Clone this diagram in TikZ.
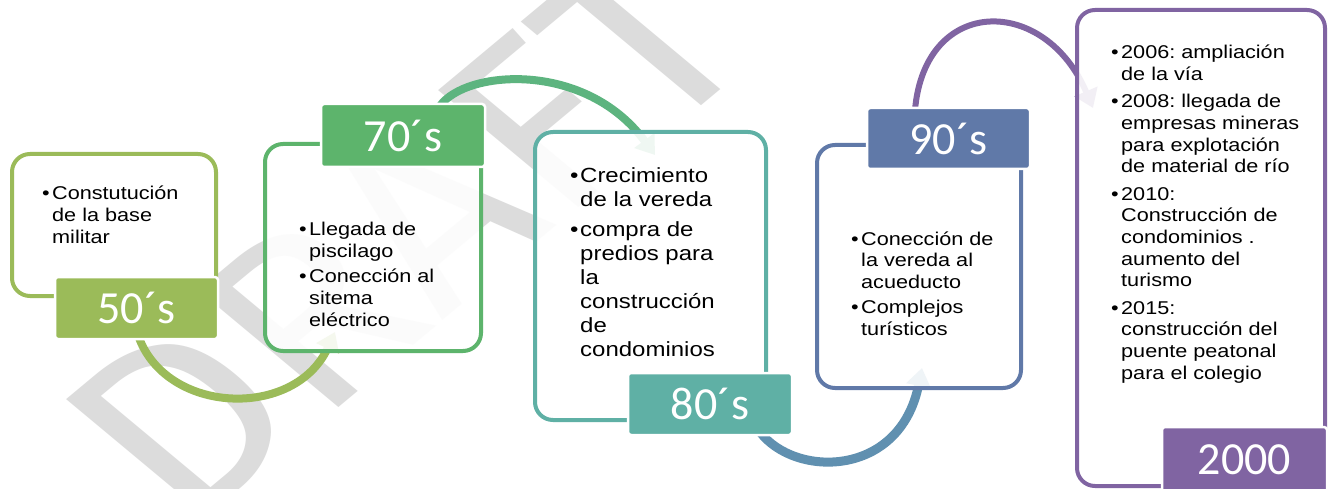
\documentclass[tikz,border=0pt]{standalone}
\usepackage{fontspec}
\setmainfont{Liberation Sans}[FakeStretch=1.17]
\newfontfamily\calfont{Carlito}
\newfontfamily\wmfont{Fira Sans}
\usetikzlibrary{arrows.meta}
\definecolor{cA}{HTML}{9BBB59}
\definecolor{cB}{HTML}{5DB46C}
\definecolor{cC}{HTML}{5FB0A5}
\definecolor{cD}{HTML}{6079A8}
\definecolor{cE}{HTML}{8064A2}
\definecolor{arcB}{HTML}{5DB47F}
\definecolor{arcC}{HTML}{6090B0}
\definecolor{wmgray}{HTML}{DCDCDC}
\pgfdeclarelayer{wml}
\pgfdeclarelayer{arcl}
\pgfsetlayers{wml,arcl,main}
\newcommand\B{\makebox[10pt][l]{\textbullet}}
\tikzset{
  frame/.style={draw=#1, line width=4pt, rounded corners=18pt, fill=white, fill opacity=0.9, outer sep=0pt, inner sep=0pt, anchor=north west},
  tag/.style={fill=#1, draw=white, line width=2.5pt, rounded corners=3pt, text=white, font=\calfont\fontsize{46}{46}\selectfont, inner sep=0pt, outer sep=0pt, anchor=north west},
  bul/.style={anchor=base west, inner sep=0pt, font=\fontsize{18.5}{21.7}\selectfont\frenchspacing},
  bulbig/.style={anchor=base west, inner sep=0pt, font=\fontsize{20.5}{24}\selectfont\frenchspacing},
  arcline/.style={draw=#1, line width=8pt, -{Triangle[width=24pt,length=18pt]}}
}
\begin{document}
\begin{tikzpicture}[x=1pt,y=-1pt]
\useasboundingbox (0,0) rectangle (1328,489);
% frames
\node[frame=cA, minimum width=204, minimum height=142] (b50) at (12,154) {};
\node[frame=cB, minimum width=216, minimum height=207] (b70) at (265,144) {};
\node[frame=cC, minimum width=231, minimum height=288] (b80) at (535,132) {};
\node[frame=cD, minimum width=204, minimum height=243] (b90) at (817,145) {};
\node[frame=cE, minimum width=248, minimum height=476] (b00) at (1077,10) {};
% labels
\node[tag=cA, minimum width=163, minimum height=62] (l50) at (55,277) {50´s};
\node[tag=cB, minimum width=164, minimum height=63] (l70) at (321,104) {70´s};
\node[tag=cC, minimum width=164, minimum height=62] (l80) at (628,373) {80´s};
\node[tag=cD, minimum width=163, minimum height=61] (l90) at (867,108) {90´s};
\node[tag=cE, minimum width=165, minimum height=66] (l00) at (1162,427) {2000};
% texts
\node[bul] (x50) at (42,200) {\begin{tabular}[t]{@{}l@{}l@{}}
\B & Constutución\\ & de la base\\ & militar\end{tabular}};
\node[bul] (x70) at (299,236) {\begin{tabular}[t]{@{}l@{}l@{}}
\B & Llegada de\\ & piscilago\\[3.6pt]
\B & Conección al\\ & sitema\\ & eléctrico\end{tabular}};
\node[bulbig] (x80) at (570,183) {\begin{tabular}[t]{@{}l@{}l@{}}
\B & Crecimiento\\ & de la vereda\\[5.5pt]
\B & compra de\\ & predios para\\ & la\\ & construcción\\ & de\\ & condominios\end{tabular}};
\node[bul] (x90) at (851,245) {\begin{tabular}[t]{@{}l@{}l@{}}
\B & Conección de\\ & la vereda al\\ & acueducto\\[3.5pt]
\B & Complejos\\ & turísticos\end{tabular}};
\node[bul] (x00) at (1111,59) {\begin{tabular}[t]{@{}l@{}l@{}}
\B & 2006: ampliación\\ & de la vía\\[5.5pt]
\B & 2008: llegada de\\ & empresas mineras\\ & para explotación\\ & de material de río\\[5.5pt]
\B & 2010:\\ & Construcción de\\ & condominios .\\ & aumento del\\ & turismo\\[5.5pt]
\B & 2015:\\ & construcción del\\ & puente peatonal\\ & para el colegio\end{tabular}};
% background: watermark
\begin{pgfonlayer}{wml}
\fill[white] (0,0) rectangle (1328,489);
\node[font=\wmfont\fontsize{240}{240}\selectfont, text=wmgray, xscale=1.2, rotate=45, inner sep=0pt] (wm) at (405,235) {DRAFT};
\end{pgfonlayer}
% arcs under the frames
\begin{pgfonlayer}{arcl}
\draw[arcline=cA] ([xshift=83pt,yshift=4pt]l50.south west) .. controls (165,415) and (295,420) .. ([xshift=70pt,yshift=19pt]b70.south west);
\draw[arcline=arcB] ([xshift=119pt,yshift=-2pt]l70.north west) .. controls (465,70) and (585,60) .. ([xshift=120pt,yshift=-23pt]b80.north west);
\draw[arcline=arcC, line width=9pt] ([xshift=132pt,yshift=3pt]l80.south west) .. controls (795,478) and (900,478) .. ([xshift=105pt,yshift=20pt]b90.south west);
\draw[arcline=cE, line width=6pt] ([xshift=48pt,yshift=-2pt]l90.north west) .. controls (925,-5) and (1045,-5) .. ([xshift=16pt,yshift=-98pt]b00.north west);
\end{pgfonlayer}
\end{tikzpicture}
\end{document}
